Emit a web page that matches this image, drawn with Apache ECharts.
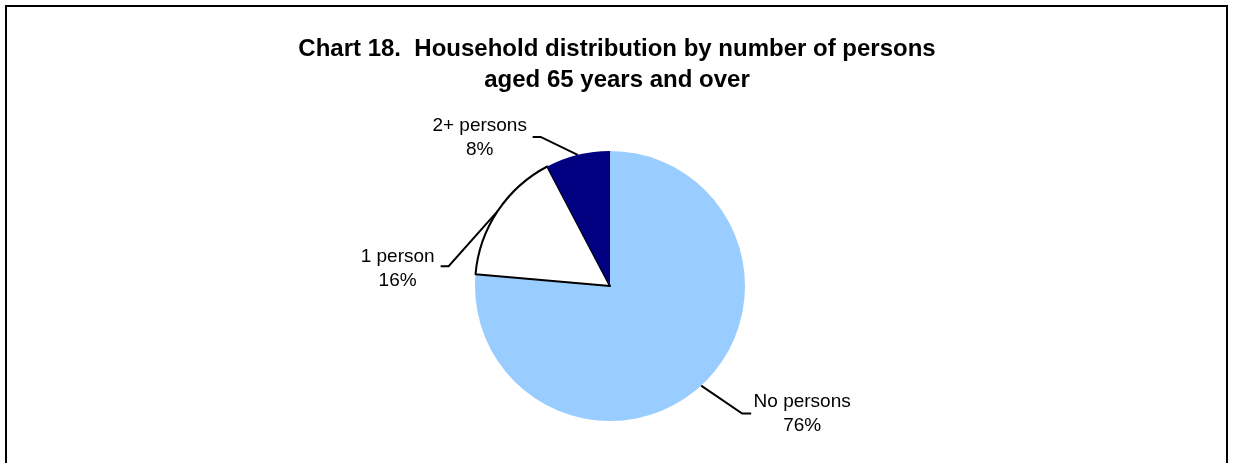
<!DOCTYPE html>
<html>
<head>
<meta charset="utf-8">
<script src="https://cdn.jsdelivr.net/npm/echarts@6/dist/echarts.min.js"></script>
<style>
html,body{margin:0;padding:0;background:#fff;}
#chart{width:1234px;height:463px;}
</style>
</head>
<body>
<div id="chart"></div>
<script>
// ---- data ----
const categories = ['No persons', '1 person', '2+ persons'];
const shares = [76.4, 15.9, 7.7];
const sliceColors = ['#99CCFF', '#FFFFFF', '#000080'];
const titleText = 'Chart 18.  Household distribution by number of persons\naged 65 years and over';

// ---- label placement (relative to the slice's arc mid-point) ----
const labelOffsets = [
  { elbow: [41, 28], end: [50, 28], text: [101, 28] },
  { elbow: [-49, 55], end: [-57, 55], text: [-100, 58] },
  { elbow: [-37, -18], end: [-45, -18], text: [-98, -17] }
];

const chart = echarts.init(document.getElementById('chart'), null, { renderer: 'canvas' });

const pieData = categories.map((name, i) => ({
  name: name,
  value: shares[i],
  itemStyle: i === 1
    ? { color: sliceColors[i], borderColor: '#000', borderWidth: 2 }
    : { color: sliceColors[i], borderWidth: 0 }
}));

chart.setOption({
  animation: false,
  backgroundColor: '#ffffff',
  title: {
    text: titleText,
    left: 'center',
    top: 29,
    textStyle: {
      fontFamily: 'Liberation Sans, Arial, sans-serif',
      fontSize: 24,
      fontWeight: 'bold',
      color: '#000',
      lineHeight: 31
    }
  },
  graphic: [{
    type: 'rect',
    shape: { x: 6, y: 6, width: 1221, height: 520 },
    style: { fill: null, stroke: '#000', lineWidth: 2 },
    silent: true,
    z: 100
  }],
  series: [{
    type: 'pie',
    center: [610, 286],
    radius: 135,
    startAngle: 90,
    clockwise: true,
    avoidLabelOverlap: false,
    percentPrecision: 0,
    data: pieData,
    label: {
      show: true,
      position: 'outside',
      formatter: '{b}\n{d}%',
      fontFamily: 'Liberation Sans, Arial, sans-serif',
      fontSize: 19,
      lineHeight: 24,
      color: '#000'
    },
    labelLine: {
      show: true,
      length: 20,
      length2: 8,
      lineStyle: { color: '#000', width: 2 }
    },
    emphasis: { disabled: true },
    labelLayout: function (params) {
      const pts = params.labelLinePoints;
      const o = labelOffsets[params.dataIndex];
      if (!pts || !o) return {};
      const a = pts[0];
      return {
        x: a[0] + o.text[0],
        y: a[1] + o.text[1],
        align: 'center',
        verticalAlign: 'middle',
        labelLinePoints: [
          [a[0], a[1]],
          [a[0] + o.elbow[0], a[1] + o.elbow[1]],
          [a[0] + o.end[0], a[1] + o.end[1]]
        ]
      };
    }
  }]
});
</script>
</body>
</html>
